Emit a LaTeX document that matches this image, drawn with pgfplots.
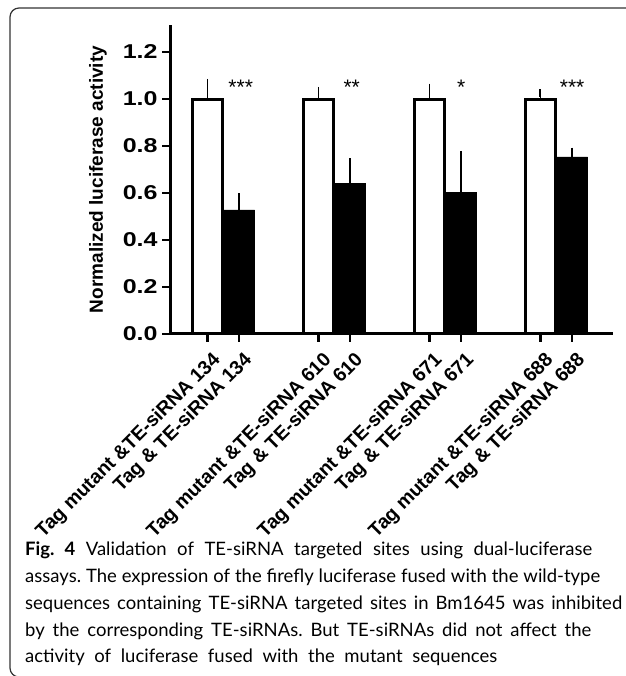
\documentclass[border=0pt]{standalone}
\usepackage{fontspec}
\setmainfont{Liberation Sans}
\newfontfamily\capfont{Lato}
\usepackage{pgfplots}
\pgfplotsset{compat=1.18}
\frenchspacing
\begin{document}
\begin{tikzpicture}
\useasboundingbox (0pt,0pt) rectangle (625pt,676pt);
% frame
\draw[line width=1.2pt, black!80, rounded corners=9pt] (640pt,668pt) -- (10pt,668pt) -- (10pt,-1pt) -- (640pt,-1pt);
\begin{axis}[
  at={(170pt,342pt)}, anchor=south west,
  scale only axis, width=443pt, height=309pt,
  xmin=-1.18, xmax=12.79, ymin=0, ymax=1.315,
  axis lines=left, axis line style={-, line width=3pt},
  tick align=outside, major tick length=8pt,
  tick style={line width=2.6pt, black},
  xtick={0,1,3.5,4.5,7,8,10.5,11.5},
  xticklabels={Tag mutant \&TE-siRNA 134, Tag \& TE-siRNA 134,
               Tag mutant \&TE-siRNA 610, Tag \& TE-siRNA 610,
               Tag mutant \&TE-siRNA 671, Tag \& TE-siRNA 671,
               Tag mutant \&TE-siRNA 688, Tag \& TE-siRNA 688},
  xticklabel style={font=\bfseries\fontsize{19.5}{19.5}\selectfont, rotate=45, anchor=north east, inner xsep=-5pt, inner ysep=0pt},
  xticklabel shift=12pt,
  ytick={0,0.2,0.4,0.6,0.8,1.0,1.2},
  yticklabel style={font=\bfseries\fontsize{20}{20}\selectfont, xscale=1.25, /pgf/number format/.cd, fixed, fixed zerofill, precision=1, assume math mode=true},
  ylabel={Normalized luciferase activity},
  ylabel style={font=\bfseries\fontsize{19}{19}\selectfont, at={(axis description cs:-0.1625,0.5)}, anchor=center},
  clip=false,
]
\addplot[ybar, bar shift=0pt, bar width=0.96, fill=white, draw=black, line width=3pt,
  error bars/.cd, y dir=plus, y explicit,
  error bar style={line width=1.6pt, black},
  error mark options={line width=1.8pt, mark size=4pt, black}]
  coordinates {(0,1.0) +- (0,0.069) (3.5,1.0) +- (0,0.035) (7,1.0) +- (0,0.048) (10.5,1.0) +- (0,0.024)};
\addplot[ybar, bar shift=0pt, bar width=0.98, fill=black, draw=black, line width=0.6pt,
  error bars/.cd, y dir=plus, y explicit,
  error bar style={line width=1.6pt, black},
  error mark options={line width=1.8pt, mark size=4pt, black}]
  coordinates {(1,0.528) +- (0,0.054) (4.5,0.640) +- (0,0.091) (8,0.601) +- (0,0.161) (11.5,0.754) +- (0,0.022)};
\node[anchor=base, font=\fontsize{21}{21}\selectfont] at (axis cs:1.05,1.021) {***};
\node[anchor=base, font=\fontsize{21}{21}\selectfont] at (axis cs:4.55,1.021) {**};
\node[anchor=base, font=\fontsize{21}{21}\selectfont] at (axis cs:8,1.021) {*};
\node[anchor=base, font=\fontsize{21}{21}\selectfont] at (axis cs:11.5,1.021) {***};
\end{axis}
% caption
\begin{scope}[every node/.style={anchor=base west, inner sep=0pt, font=\capfont\fontsize{18.5}{18.5}\selectfont}]
\node at (25pt,120pt) {\makebox[567pt][s]{\textbf{Fig. 4} Validation of TE-siRNA targeted sites using dual-luciferase}};
\node at (25pt,93pt) {\makebox[575pt][s]{assays. The expression of the firefly luciferase fused with the wild-type}};
\node at (25pt,66pt) {\makebox[597pt][s]{sequences containing TE-siRNA targeted sites in Bm1645 was inhibited}};
\node at (25pt,39pt) {\makebox[566pt][s]{by the corresponding TE-siRNAs. But TE-siRNAs did not affect the}};
\node at (25pt,13pt) {\makebox[472pt][s]{activity of luciferase fused with the mutant sequences}};
\end{scope}
\end{tikzpicture}
\end{document}
